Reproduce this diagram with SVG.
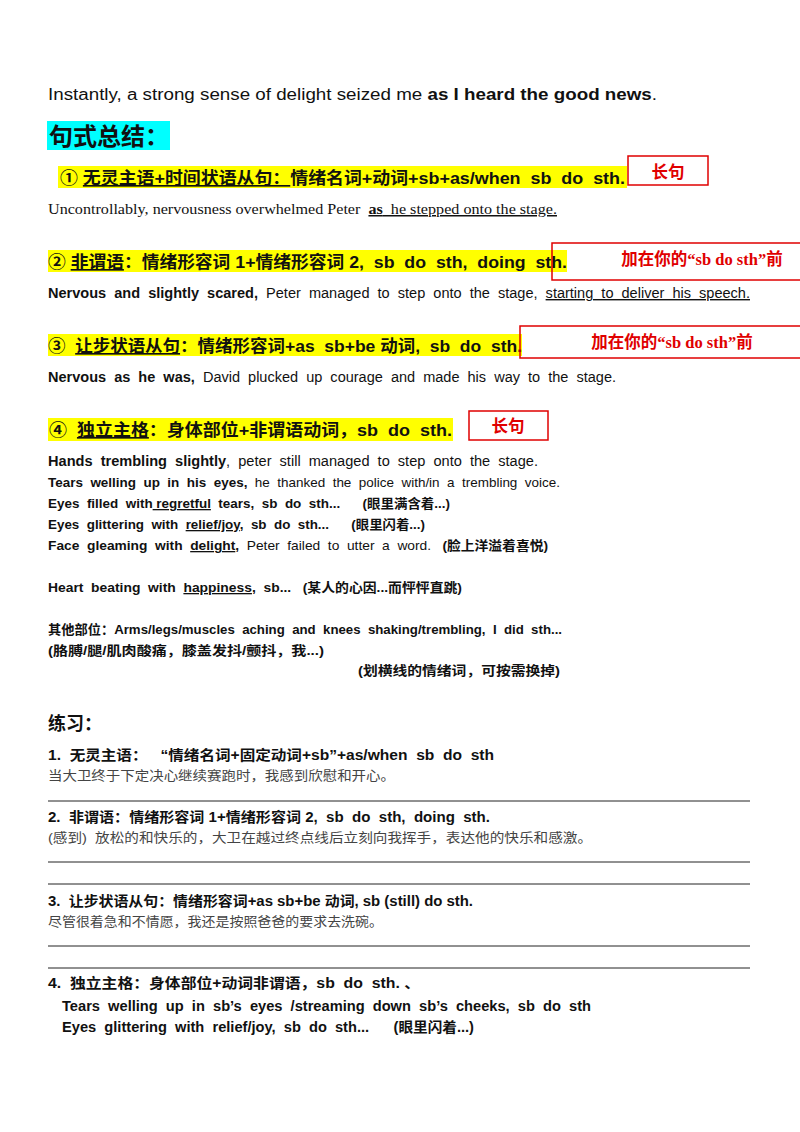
<svg xmlns="http://www.w3.org/2000/svg" width="800" height="1132" viewBox="0 0 800 1132">
<style>
text{font-family:"Liberation Sans","Noto Sans CJK SC",sans-serif;fill:#111;font-size:14px;white-space:pre}
.b{font-weight:bold}
.h{font-size:16.5px;font-weight:bold}
.s{font-family:"Liberation Serif","Noto Sans CJK SC",serif;font-size:15px}
.r{fill:#e00000;font-weight:bold;font-family:"Liberation Serif","Noto Sans CJK SC",serif;font-size:16.5px}
.g{fill:#444}
.u{text-decoration:underline}
.box{fill:none;stroke:#e00000;stroke-width:1.5}
.ln{stroke:#222;stroke-width:1}
.hl{fill:#ffff00}
</style>
<rect width="800" height="1132" fill="#fff"/>
<g id="intro"><text x="48" y="100" textLength="609" lengthAdjust="spacingAndGlyphs" style="font-size:16px">Instantly, a strong sense of delight seized me <tspan class="b">as I heard the good news</tspan>.</text></g>
<g id="title"><rect x="47" y="121" width="123" height="29" fill="#00ffff"/><text x="49" y="145" class="b" style="font-size:24px">句式总结：</text></g>
<g id="p1">
<rect class="hl" x="58" y="166" width="569" height="22"/>
<text class="h" x="60" y="184" textLength="565" lengthAdjust="spacingAndGlyphs">① <tspan class="u">无灵主语+时间状语从句：</tspan>情绪名词+动词+sb+as/when  sb  do  sth.</text>
<rect class="box" x="628" y="156" width="80" height="29"/><text class="r" x="668" y="178" text-anchor="middle">长句</text>
<text class="s" x="48" y="214" textLength="509" lengthAdjust="spacingAndGlyphs">Uncontrollably, nervousness overwhelmed Peter  <tspan class="u b">as</tspan><tspan class="u">  he stepped onto the stage.</tspan></text>
</g>
<g id="p2">
<rect class="hl" x="48" y="250" width="519" height="22"/>
<text class="h" x="48" y="268" textLength="519" lengthAdjust="spacingAndGlyphs">② <tspan class="u">非谓语</tspan>：情绪形容词 1+情绪形容词 2,  sb  do  sth,  doing  sth.</text>
<rect class="box" x="552" y="243" width="260" height="37"/><text class="r" x="702" y="265" text-anchor="middle">加在你的“sb do sth”前</text>
<text x="48" y="298" textLength="702" lengthAdjust="spacingAndGlyphs"><tspan class="b">Nervous  and  slightly  scared,</tspan>  Peter  managed  to  step  onto  the  stage,  <tspan class="u">starting  to  deliver  his  speech.</tspan></text>
</g>
<g id="p3">
<rect class="hl" x="48" y="334" width="474" height="22"/>
<text class="h" x="48" y="352" textLength="474" lengthAdjust="spacingAndGlyphs">③  <tspan class="u">让步状语从句</tspan>：情绪形容词+as  sb+be 动词,  sb  do  sth.</text>
<rect class="box" x="520" y="326" width="290" height="32"/><text class="r" x="672" y="348" text-anchor="middle">加在你的“sb do sth”前</text>
<text x="48" y="382" textLength="568" lengthAdjust="spacingAndGlyphs"><tspan class="b">Nervous  as  he  was,</tspan>  David  plucked  up  courage  and  made  his  way  to  the  stage.</text>
</g>
<g id="p4">
<rect class="hl" x="48" y="418" width="405" height="23"/>
<text class="h" x="49" y="436" textLength="403" lengthAdjust="spacingAndGlyphs">④  <tspan class="u">独立主格</tspan>：身体部位+非谓语动词，sb  do  sth.</text>
<rect class="box" x="469" y="411" width="79" height="29"/><text class="r" x="508" y="432" text-anchor="middle">长句</text>
<text x="48" y="466" textLength="490" lengthAdjust="spacingAndGlyphs"><tspan class="b">Hands  trembling  slightly</tspan>,  peter  still  managed  to  step  onto  the  stage.</text>
<text x="48" y="487" style="font-size:13px" textLength="512" lengthAdjust="spacingAndGlyphs"><tspan class="b">Tears  welling  up  in  his  eyes,</tspan>  he  thanked  the  police  with/in  a  trembling  voice.</text>
<text class="b" x="48" y="508" style="font-size:13px" textLength="402" lengthAdjust="spacingAndGlyphs">Eyes  filled  with<tspan class="u"> regretful</tspan>  tears,  sb  do  sth...      (眼里满含着...)</text>
<text class="b" x="48" y="529" style="font-size:13px" textLength="377" lengthAdjust="spacingAndGlyphs">Eyes  glittering  with  <tspan class="u">relief/joy</tspan>,  sb  do  sth...      (眼里闪着...)</text>
<text x="48" y="550" style="font-size:13px" textLength="500" lengthAdjust="spacingAndGlyphs"><tspan class="b">Face  gleaming  with  <tspan class="u">delight</tspan>,</tspan>  Peter  failed  to  utter  a  word.   <tspan class="b">(脸上洋溢着喜悦)</tspan></text>
<text class="b" x="48" y="592" style="font-size:13px" textLength="414" lengthAdjust="spacingAndGlyphs">Heart  beating  with  <tspan class="u">happiness</tspan>,  sb...   (某人的心因...而怦怦直跳)</text>
<text class="b" x="48" y="634" style="font-size:13px" textLength="514" lengthAdjust="spacingAndGlyphs">其他部位：Arms/legs/muscles  aching  and  knees  shaking/trembling,  I  did  sth...</text>
<text class="b" x="48" y="655" style="font-size:13px" textLength="276" lengthAdjust="spacingAndGlyphs">(胳膊/腿/肌肉酸痛，膝盖发抖/颤抖，我...)</text>
<text class="b" x="358" y="675" style="font-size:13px" textLength="202" lengthAdjust="spacingAndGlyphs">(划横线的情绪词，可按需换掉)</text>
</g>
<g id="practice">
<text class="b" x="48" y="730" style="font-size:18px">练习：</text>
<text class="b" x="48" y="760" textLength="446" lengthAdjust="spacingAndGlyphs">1.  无灵主语：   “情绪名词+固定动词+sb”+as/when  sb  do  sth</text>
<text class="g" x="48" y="780" style="font-size:13px" textLength="347" lengthAdjust="spacingAndGlyphs">当大卫终于下定决心继续赛跑时，我感到欣慰和开心。</text>
<text class="b" x="48" y="822" textLength="442" lengthAdjust="spacingAndGlyphs">2.  非谓语：情绪形容词 1+情绪形容词 2,  sb  do  sth,  doing  sth.</text>
<text class="g" x="48" y="842" style="font-size:13px" textLength="544" lengthAdjust="spacingAndGlyphs">(感到)  放松的和快乐的，大卫在越过终点线后立刻向我挥手，表达他的快乐和感激。</text>
<text class="b" x="48" y="906" textLength="425" lengthAdjust="spacingAndGlyphs">3.  让步状语从句：情绪形容词+as sb+be 动词, sb (still) do sth.</text>
<text class="g" x="48" y="926" style="font-size:13px" textLength="335" lengthAdjust="spacingAndGlyphs">尽管很着急和不情愿，我还是按照爸爸的要求去洗碗。</text>
<text class="b" x="48" y="988" textLength="372" lengthAdjust="spacingAndGlyphs">4.  独立主格：身体部位+动词非谓语，sb  do  sth. 、</text>
<text class="b" x="62" y="1011" textLength="529" lengthAdjust="spacingAndGlyphs">Tears  welling  up  in  sb’s  eyes  /streaming  down  sb’s  cheeks,  sb  do  sth</text>
<text class="b" x="62" y="1032" textLength="412" lengthAdjust="spacingAndGlyphs">Eyes  glittering  with  relief/joy,  sb  do  sth...      (眼里闪着...)</text>
</g>
<g id="connectors">
<line class="ln" x1="48" y1="801" x2="750" y2="801"/>
<line class="ln" x1="48" y1="862" x2="750" y2="862"/>
<line class="ln" x1="48" y1="884" x2="750" y2="884"/>
<line class="ln" x1="48" y1="946" x2="750" y2="946"/>
<line class="ln" x1="48" y1="968" x2="750" y2="968"/>
</g>
</svg>
